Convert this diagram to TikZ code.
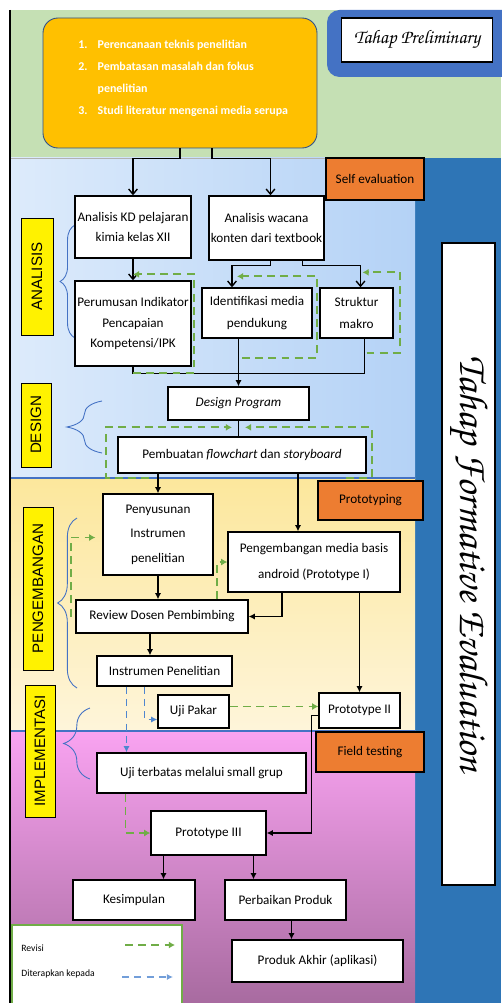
\documentclass[tikz,border=0pt]{standalone}
\usepackage{fontspec}
\setmainfont{Carlito}
\newfontfamily\arialfont{Liberation Sans}
\usetikzlibrary{arrows.meta,decorations.pathreplacing}

\newdimen\px \px=0.02cm
\newcommand\tulisan{\usefont{T1}{pzc}{mb}{it}}

\definecolor{hijaumuda}{HTML}{C5E0B4}
\definecolor{birutua}{HTML}{2E75B6}
\definecolor{biruprelim}{HTML}{4472C4}
\definecolor{birumudaA}{HTML}{DDEBFB}
\definecolor{birumudaB}{HTML}{B4D2F6}
\definecolor{kuningA}{HTML}{FCE79C}
\definecolor{kuningB}{HTML}{FEF5DA}
\definecolor{unguA}{HTML}{F9A3F1}
\definecolor{unguB}{HTML}{A86BA0}
\definecolor{oranye}{HTML}{ED7D31}
\definecolor{emas}{HTML}{FFC000}
\definecolor{hijau}{HTML}{70AD47}
\definecolor{biru}{HTML}{4F86CF}
\definecolor{kurungbiru}{HTML}{4472C4}

\tikzset{
  kotak/.style={draw, line width=0.75pt, fill=white, align=center, inner sep=1pt,
    font=\fontsize{7.5}{11.5}\selectfont},
  label/.style={draw, line width=0.6pt, fill=oranye, font=\fontsize{7.5}{9}\selectfont},
  fase/.style={draw, line width=0.5pt, fill=yellow, rotate=90, inner sep=0pt,
    font=\arialfont\fontsize{8.6}{10}\selectfont},
  kurung/.style={draw=kurungbiru, line width=0.5pt, decorate},
  barb/.style={-{Straight Barb[length=3pt,width=5pt]}, line width=0.8pt},
  arr/.style={-{Latex[length=3.5pt,width=3.5pt]}, line width=0.7pt},
  rev/.style={draw=hijau, line width=1.1pt, dash pattern=on 4.5pt off 3pt,
    -{Latex[length=3.5pt,width=4pt]}},
  apl/.style={draw=biru, line width=0.8pt, dash pattern=on 4pt off 3pt,
    -{Latex[length=3.5pt,width=3.5pt]}}
}

\begin{document}
\begin{tikzpicture}[x=0.02cm, y=-0.02cm]
\useasboundingbox (0,0) rectangle (501,1003);
% latar tiap tahap
\fill[hijaumuda] (10,10) rectangle (501,158);
\fill[birutua] (415,158) rectangle (501,1003);
\shade[left color=birumudaA, right color=birumudaB] (10,158) rectangle (415,478);
\shade[top color=kuningA, bottom color=kuningB] (10,478) rectangle (415,731);
\shade[top color=unguA, bottom color=unguB] (10,731) rectangle (415,1003);
\draw[gray!60] (10,158) -- (415,158);
\draw[kurungbiru, line width=0.6pt] (10,478) -- (415,478);
\draw[kurungbiru, line width=0.6pt] (10,731) -- (415,731);
\draw[line width=0.8pt] (10,10) -- (10,1003);
\fill[biruprelim, rounded corners=0.25cm] (327,10) rectangle (540,77);

% tahap preliminary
\node[draw=biruprelim!70!black, line width=0.5pt, fill=emas, rounded corners=0.3cm,
  minimum width=274\px, minimum height=130\px] (prelim) at (180,83) {};
\node[anchor=west, text=white, font=\fontsize{6.8}{9}\selectfont\bfseries, inner sep=0pt] (daftar) at (78,77)
  {\def\arraystretch{1.4}\begin{tabular}{@{}l@{\hspace{10\px}}l@{}}
   1. & Perencanaan teknis penelitian\\
   2. & Pembatasan masalah dan fokus\\
      & penelitian\\
   3. & Studi literatur mengenai media serupa
   \end{tabular}};
\node[draw, line width=0.8pt, fill=white, minimum width=151\px, minimum height=44\px,
  font=\tulisan\fontsize{11}{12}\selectfont] (tprelim) at (417,40) {Tahap Preliminary};
\node[draw, line width=0.8pt, fill=white, rotate=-90, minimum width=642\px, minimum height=48\px,
  font=\tulisan\fontsize{23}{24}\selectfont] (tformatif) at (468.5,564) {Tahap Formative Evaluation};

% label evaluasi
\node[label, minimum width=98\px, minimum height=42\px] (selfev) at (375,179) {Self evaluation};
\node[label, minimum width=105\px, minimum height=39\px] (proto) at (370.5,500.5) {Prototyping};
\node[label, minimum width=108\px, minimum height=40\px] (field) at (370,752) {Field testing};

% label fase
\node[fase, minimum width=117\px, minimum height=32\px] (analisis) at (37,276.5) {ANALISIS};
\node[fase, minimum width=84\px, minimum height=30\px] (design) at (36,425) {DESIGN};
\node[fase, minimum width=163\px, minimum height=30\px] (pengembangan) at (38,588.5) {PENGEMBANGAN};
\node[fase, minimum width=132\px, minimum height=30\px] (implementasi) at (40,751) {IMPLEMENTASI};

\draw[kurung, decoration={brace, amplitude=8.5pt}] (75,338) -- (75,225);
\draw[kurung, decoration={brace, amplitude=20pt}] (102,453) -- (102,401);
\draw[kurung, decoration={brace, amplitude=11pt}] (77,688) -- (77,518);
\draw[kurung, decoration={brace, amplitude=15pt}] (90,779) -- (90,708);

% analisis
\node[kotak, minimum width=116\px, minimum height=62\px] (akd) at (133,227)
  {Analisis KD pelajaran\\kimia kelas XII};
\node[kotak, minimum width=111\px, minimum height=64\px] (wacana) at (266.5,228)
  {Analisis wacana\\konten dari textbook};
\node[kotak, minimum width=116\px, minimum height=85\px] (ipk) at (133,323.5)
  {Perumusan Indikator\\Pencapaian\\Kompetensi/IPK};
\node[kotak, minimum width=110\px, minimum height=50\px, font=\fontsize{7.5}{13}\selectfont] (idm) at (257,313)
  {Identifikasi media\\pendukung};
\node[kotak, minimum width=73\px, minimum height=50\px, font=\fontsize{7.5}{13}\selectfont] (makro) at (356.5,313)
  {Struktur\\makro};

% design
\node[kotak, minimum width=141\px, minimum height=33\px] (dprog) at (238.5,403.5)
  {\textit{Design Program}};
\node[kotak, minimum width=248\px, minimum height=36\px] (flow) at (242,455)
  {Pembuatan \textit{flowchart} dan \textit{storyboard}};

% pengembangan
\node[kotak, minimum width=110\px, minimum height=81\px, font=\fontsize{7.5}{14}\selectfont] (susun) at (158,534.5)
  {Penyusunan\\Instrumen\\penelitian};
\node[kotak, minimum width=172\px, minimum height=60\px, font=\fontsize{7.5}{14.7}\selectfont] (media) at (314,562)
  {Pengembangan media basis\\android (Prototype I)};
\node[kotak, minimum width=172\px, minimum height=33\px] (review) at (162,616.5)
  {Review Dosen Pembimbing};
\node[kotak, minimum width=135\px, minimum height=30\px] (instrumen) at (164.5,671)
  {Instrumen Penelitian};
\node[kotak, minimum width=71\px, minimum height=33\px] (pakar) at (193.5,711.5)
  {Uji Pakar};
\node[kotak, minimum width=81\px, minimum height=35\px] (proto2) at (359.5,710.5)
  {Prototype II};

% implementasi
\node[kotak, minimum width=209\px, minimum height=40\px] (terbatas) at (201.5,773)
  {Uji terbatas melalui small grup};
\node[kotak, minimum width=115\px, minimum height=44\px] (proto3) at (208.5,833)
  {Prototype III};
\node[kotak, minimum width=122\px, minimum height=40\px] (simpul) at (134,900)
  {Kesimpulan};
\node[kotak, minimum width=121\px, minimum height=40\px] (perbaikan) at (285.5,900)
  {Perbaikan Produk};
\node[kotak, minimum width=171\px, minimum height=42\px] (akhir) at (317.5,961)
  {Produk Akhir (aplikasi)};

% alur utama
\draw[barb] (prelim.south) -- ++(0,10) -| (akd.north);
\draw[barb] ([xshift=32\px]prelim.south) -- ++(0,10) -| ([xshift=4\px]wacana.north);
\draw[barb] (akd.south) -- (ipk.north);
\draw[barb] ([xshift=4\px]wacana.south) -- ++(0,5) -| ([xshift=-25\px]idm.north);
\draw[barb] ([xshift=36\px]wacana.south) -- ++(0,5) -| ([xshift=4\px]makro.north);
\draw[line width=0.9pt] (ipk.south) -- ++(0,7) -| ([xshift=8\px]makro.south);
\draw[arr] (idm.south -| dprog.north) -- (dprog.north);
\draw[line width=0.7pt] (dprog.south) -- (dprog.south |- flow.north);
\draw[arr] (flow.south -| susun.north) -- (susun.north);
\draw[arr] ([xshift=-16\px]media.north |- flow.south) -- ([xshift=-16\px]media.north);
\draw[arr] (susun.south) -- (susun.south |- review.north);
\draw[arr] ([xshift=-32\px]media.south) |- (review.east);
\draw[arr] ([xshift=-12\px]review.south) -- ([xshift=-12\px]review.south |- instrumen.north);
\draw[arr] (proto2.north |- media.south) -- (proto2.north);
\draw[arr] ([yshift=-5\px]proto2.west) -- ++(-7,0) |- (proto3.east);
\draw[arr] ([xshift=-45\px]proto3.south) -- ([xshift=-45\px]proto3.south |- simpul.north);
\draw[arr] ([xshift=45\px]proto3.south) -- ([xshift=45\px]proto3.south |- perbaikan.north);
\draw[arr] ([xshift=6\px]perbaikan.south) -- ([xshift=6\px]perbaikan.south |- akhir.north);

% revisi
\draw[rev] ([yshift=-6\px]ipk.south) -| ([xshift=2\px,yshift=6\px]ipk.north east) -- ([yshift=6\px]ipk.north);
\draw[rev] ([xshift=-15\px,yshift=-19\px]idm.south) -| ([xshift=4\px,yshift=11\px]idm.north east)
  -- ([xshift=-20\px,yshift=11\px]idm.north);
\draw[rev] ([xshift=10\px,yshift=-14\px]makro.south) -| ([xshift=6\px,yshift=15\px]makro.north east)
  -- ([xshift=6\px,yshift=15\px]makro.north);
\draw[rev] ([xshift=32\px,yshift=-4\px]flow.south west) -| ([xshift=-11\px,yshift=9\px]flow.north west)
  -- ([xshift=-10\px,yshift=9\px]flow.north);
\draw[rev] ([xshift=-21\px,yshift=-4\px]flow.south east) -| ([xshift=5\px,yshift=9\px]flow.north east)
  -- ([xshift=3\px,yshift=9\px]flow.north);
\draw[rev] ([xshift=-4\px]review.west) |- ([xshift=-7\px,yshift=-3\px]susun.west);
\draw[rev] ([xshift=-10\px]review.north -| media.west) |- (media.west);
\draw[rev] ([yshift=5\px]pakar.east) -- ([yshift=5\px]pakar.east -| proto2.west);
\draw[rev] ([xshift=-76\px]terbatas.south) |- (proto3.west);

% diterapkan kepada
\draw[apl] ([xshift=-38\px]instrumen.south) -- ([xshift=-38\px]instrumen.south |- terbatas.north);
\draw[apl] ([xshift=-20\px]instrumen.south) |- ([yshift=-8\px]pakar.west);

% keterangan
\node[draw=hijau, line width=0.7pt, fill=white, minimum width=170\px, minimum height=90\px] (ket) at (97,970) {};
\node[anchor=west, font=\fontsize{5.5}{6}\selectfont, inner sep=0pt] (krevisi) at (21,948) {Revisi};
\node[anchor=west, font=\fontsize{5.5}{6}\selectfont, inner sep=0pt] (kterap) at (21,974) {Diterapkan kepada};
\coordinate (revA) at (125,945);
\coordinate (revB) at (175,945);
\coordinate (aplA) at (122,977);
\coordinate (aplB) at (173,977);
\draw[rev, line width=1.4pt] (revA) -- (revB);
\draw[apl, line width=1.2pt, draw=biru!80!white] (aplA) -- (aplB);
\end{tikzpicture}
\end{document}
